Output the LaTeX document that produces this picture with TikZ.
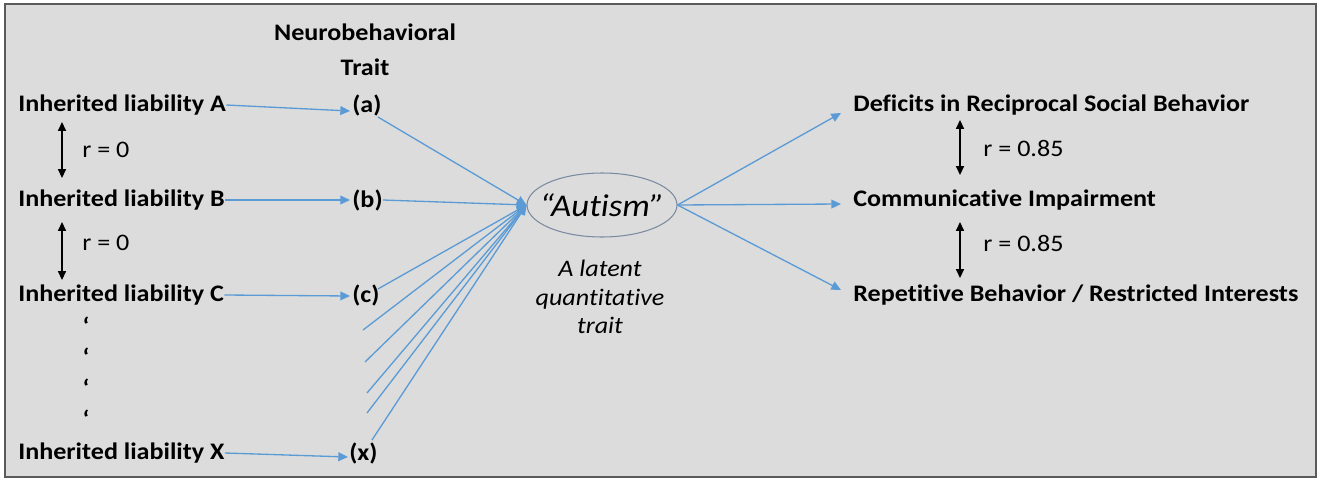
\documentclass[tikz,border=0pt]{standalone}
\usepackage{fontspec}
\setmainfont{Carlito}[FakeStretch=1.1,Ligatures={NoCommon}]
\usetikzlibrary{arrows.meta,shapes.geometric}
\definecolor{bgc}{HTML}{DCDCDC}
\definecolor{frm}{HTML}{5A5A5A}
\definecolor{lblue}{HTML}{5B9BD5}
\definecolor{ellc}{HTML}{7A8AA0}
\begin{document}
\begin{tikzpicture}[x=0.02cm,y=-0.02cm,
  lbl/.style={font=\fontsize{13.5}{16}\selectfont\bfseries, inner sep=0, anchor=west},
  rlab/.style={font=\fontsize{13.5}{16}\selectfont, inner sep=0, anchor=west},
  dotq/.style={font=\fontsize{13.5}{16}\selectfont\bfseries, inner sep=0},
  blu/.style={draw=lblue, line width=0.75pt, -{Triangle[length=5.5pt,width=5pt]}},
  bar/.style={line width=0.8pt, {Triangle[length=5pt,width=4.5pt]}-{Triangle[length=5pt,width=4.5pt]}}]
\useasboundingbox (0,0) rectangle (1322,480);
\draw[frm, line width=1.1pt, fill=bgc] (5,4) rectangle (1316,477);

% header
\node[font=\fontsize{13.5}{19.8}\selectfont\bfseries, align=center, inner sep=0] (nb) at (365,50) {Neurobehavioral\\Trait};

% left liabilities
\node[lbl] (A) at (18,105) {Inherited liability A};
\node[lbl] (B) at (18,200) {Inherited liability B};
\node[lbl] (C) at (18,295) {Inherited liability C};
\node[lbl] (X) at (18,453) {Inherited liability X};

% traits
\node[lbl] (ta) at (352,105) {(a)};
\node[lbl] (tb) at (352,200) {(b)};
\node[lbl] (tc) at (352,295) {(c)};
\node[lbl] (tx) at (349,453) {(x)};

% dots
\node[dotq] (d1) at (86,326) {‘};
\node[dotq] (d2) at (86,357) {‘};
\node[dotq] (d3) at (86,388) {‘};
\node[dotq] (d4) at (86,419) {‘};

% r labels left
\draw[bar] ([shift={(44,17)}]A.west) -- ([shift={(44,-22)}]B.west);
\node[rlab] (r1) at (82,150) {r = 0};
\draw[bar] ([shift={(44,22)}]B.west) -- ([shift={(44,-15)}]C.west);
\node[rlab] (r2) at (82,243) {r = 0};

% autism ellipse
\node[ellipse, draw=ellc, line width=0.6pt, minimum width=3cm, minimum height=1.28cm, inner sep=0,
      font=\fontsize{18}{20}\selectfont\itshape] (aut) at (602,205) {\makebox[0pt]{“Autism”}};
\node[font=\fontsize{13.5}{16.4}\selectfont\itshape, align=center, inner sep=0] (lat) at (600,297) {A latent\\quantitative\\trait};

% liabilities to traits
\draw[blu] (A.east) -- ([shift={(-2,6)}]ta.west);
\draw[blu] (B.east) -- ([shift={(-2,0)}]tb.west);
\draw[blu] (C.east) -- ([shift={(-2,1)}]tc.west);
\draw[blu] (X.east) -- ([shift={(-1,4)}]tx.west);

% traits to autism
\coordinate (e1) at (363,330);
\coordinate (e2) at (365,362);
\coordinate (e3) at (367,393);
\coordinate (e4) at (367,413);
\draw[blu] ([shift={(-4,1)}]ta.south east) -- (aut.west);
\draw[blu] (tb.east) -- (aut.west);
\draw[blu] ([shift={(-2,-6)}]tc.east) -- (aut.west);
\draw[blu] (e1) -- (aut.west);
\draw[blu] (e2) -- (aut.west);
\draw[blu] (e3) -- (aut.west);
\draw[blu] (e4) -- (aut.west);
\draw[blu] ([shift={(-6,-2)}]tx.north east) -- (aut.west);

% outcomes
\node[lbl] (D) at (853,105) {Deficits in Reciprocal Social Behavior};
\node[lbl] (Cm) at (853,200) {Communicative Impairment};
\node[lbl] (R) at (853,295) {Repetitive Behavior / Restricted Interests};

\draw[blu] (aut.east) -- ([shift={(-12,8)}]D.west);
\draw[blu] (aut.east) -- ([shift={(-12,4)}]Cm.west);
\draw[blu] (aut.east) -- ([shift={(-12,-5)}]R.west);

\draw[bar] ([shift={(107,15)}]D.west) -- ([shift={(107,-25)}]Cm.west);
\node[rlab] (r3) at (983,148) {r = 0.85};
\draw[bar] ([shift={(107,22)}]Cm.west) -- ([shift={(107,-17)}]R.west);
\node[rlab] (r4) at (983,243) {r = 0.85};
\end{tikzpicture}
\end{document}
